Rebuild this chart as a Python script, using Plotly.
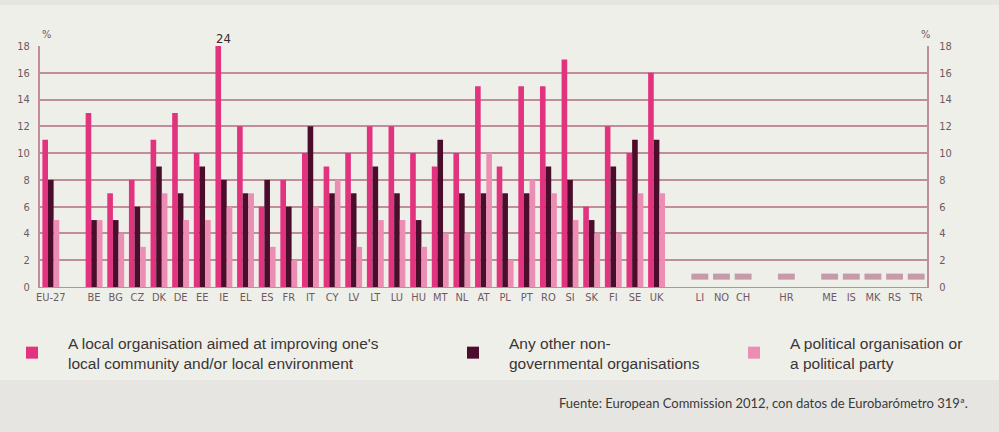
import plotly.graph_objects as go

# ---------------- data ----------------
eu27_label = "EU-27"
eu27_local, eu27_ngo, eu27_pol = 11, 8, 5

eu_countries = ["BE", "BG", "CZ", "DK", "DE", "EE", "IE", "EL", "ES", "FR", "IT", "CY", "LV", "LT",
                "LU", "HU", "MT", "NL", "AT", "PL", "PT", "RO", "SI", "SK", "FI", "SE", "UK"]
eu_local = [13, 7, 8, 11, 13, 10, 24, 12, 6, 8, 10, 9, 10, 12, 12, 10, 9, 10, 15, 9, 15, 15, 17, 6, 12, 10, 16]
eu_ngo = [5, 5, 6, 9, 7, 9, 8, 7, 8, 6, 12, 7, 7, 9, 7, 5, 11, 7, 7, 7, 7, 9, 8, 5, 9, 11, 11]
eu_pol = [5, 4, 3, 7, 5, 5, 6, 7, 3, 2, 6, 8, 3, 5, 5, 3, 4, 4, 10, 2, 8, 7, 5, 4, 4, 7, 7]

efta_countries = ["LI", "NO", "CH"]
acc_countries = ["HR"]
cand_countries = ["ME", "IS", "MK", "RS", "TR"]
nodata_base = 0.55
nodata_height = 0.45

y_ticks = [0, 2, 4, 6, 8, 10, 12, 14, 16, 18]
y_max = 18

series_names = [
    "A local organisation aimed at improving one's<br>local community and/or local environment",
    "Any other non-<br>governmental organisations",
    "A political organisation or<br>a political party",
]
source_text = "Fuente: European Commission 2012, con datos de Eurobarómetro 319ª."

# ---------------- build category axis with spacers ----------------
groups = [[eu27_label], eu_countries, efta_countries, acc_countries, cand_countries]
cats, tick_text = [], []
for gi, g in enumerate(groups):
    if gi > 0:
        sp = " " * gi
        cats.append(sp)
        tick_text.append("")
    cats += g
    tick_text += g

vals_local = {eu27_label: eu27_local, **dict(zip(eu_countries, eu_local))}
vals_ngo = {eu27_label: eu27_ngo, **dict(zip(eu_countries, eu_ngo))}
vals_pol = {eu27_label: eu27_pol, **dict(zip(eu_countries, eu_pol))}
nodata = efta_countries + acc_countries + cand_countries

c_local = "#e2337f"
c_ngo = "#4b0d2c"
c_pol = "#ec8db3"
c_grid = "#bf8d9c"
c_tick = "#6e5a63"
narrow = "Liberation Sans Narrow, DejaVu Sans Condensed, Arial Narrow, sans-serif"
tick_font = dict(family=narrow, size=11, color=c_tick)

L, R, T, B = 40, 72, 46, 145
W, H = 999, 432
pw, ph = W - L - R, H - T - B


def px_x(px):
    return (px - L) / pw


def px_y(py):
    return (H - B - py) / ph


fig = go.Figure()
for name, d, col, lg in [(series_names[0], vals_local, c_local, "legend"),
                         (series_names[1], vals_ngo, c_ngo, "legend2"),
                         (series_names[2], vals_pol, c_pol, "legend3")]:
    fig.add_trace(go.Bar(x=cats, y=[d.get(c) for c in cats], name=name, marker_color=col,
                         marker_line_width=0, legend=lg, hoverinfo="x+y"))

fig.add_trace(go.Bar(x=nodata, y=[nodata_height] * len(nodata), base=[nodata_base] * len(nodata),
                     marker_color="#c79aab", marker_line_width=0, showlegend=False,
                     yaxis="y2", hoverinfo="skip"))

# clipped value label for IE
ie_idx = eu_countries.index("IE")
fig.add_annotation(x="IE", y=y_max, yref="y", text=str(eu_local[ie_idx]), showarrow=False,
                   yanchor="bottom", yshift=-2,
                   font=dict(family=narrow, size=13, color="#3a2a30"))

# percent signs
for xp, anc in [(px_x(40), "left"), (px_x(932), "right")]:
    fig.add_annotation(x=xp, y=1.0, xref="paper", yref="paper", text="%", showarrow=False,
                       xanchor=anc, yanchor="bottom", yshift=3, font=tick_font)

# panel background
fig.add_shape(type="rect", xref="paper", yref="paper", x0=-1, x1=2, y0=px_y(380), y1=px_y(5),
              fillcolor="#efefe9", line_width=0, layer="below")

fig.add_annotation(x=px_x(970), y=px_y(403), xref="paper", yref="paper", text=source_text,
                   showarrow=False, xanchor="right", yanchor="middle",
                   font=dict(family="Lato, Open Sans, sans-serif", size=13, color="#3a3a3a"))

legend_common = dict(orientation="h", yanchor="top", bgcolor="rgba(0,0,0,0)",
                     font=dict(family="Liberation Sans, Arial, sans-serif", size=15.5, color="#3a3535"),
                     itemsizing="constant", itemwidth=62)

fig.update_layout(
    width=W, height=H,
    margin=dict(l=L, r=R, t=T, b=B, autoexpand=False),
    paper_bgcolor="#e6e5e1",
    plot_bgcolor="#f1f1ec",
    barmode="group", bargap=0.22, bargroupgap=0,
    xaxis=dict(type="category", categoryorder="array", categoryarray=cats,
               tickmode="array", tickvals=cats, ticktext=tick_text,
               tickfont=tick_font, showgrid=False, showline=True, linecolor=c_grid, linewidth=1,
               ticks="", range=[-0.5, len(cats) - 0.5], fixedrange=True),
    yaxis=dict(range=[0, y_max], tickvals=y_ticks, tickfont=tick_font, showgrid=True,
               gridcolor=c_grid, gridwidth=2, showline=True, linecolor=c_grid, linewidth=2,
               zeroline=False, ticks="", ticklabelstandoff=6),
    yaxis2=dict(range=[0, y_max], tickvals=y_ticks, tickfont=tick_font, overlaying="y", side="right",
                showgrid=False, showline=True, linecolor=c_grid, linewidth=2, zeroline=False,
                ticks="", ticklabelstandoff=8),
    legend=dict(x=px_x(-4), y=px_y(326), **legend_common),
    legend2=dict(x=px_x(437), y=px_y(326), **legend_common),
    legend3=dict(x=px_x(718), y=px_y(326), **legend_common),
)

fig.write_html("out.html", post_script="document.body.style.margin='0';",
               config={"displayModeBar": False})
